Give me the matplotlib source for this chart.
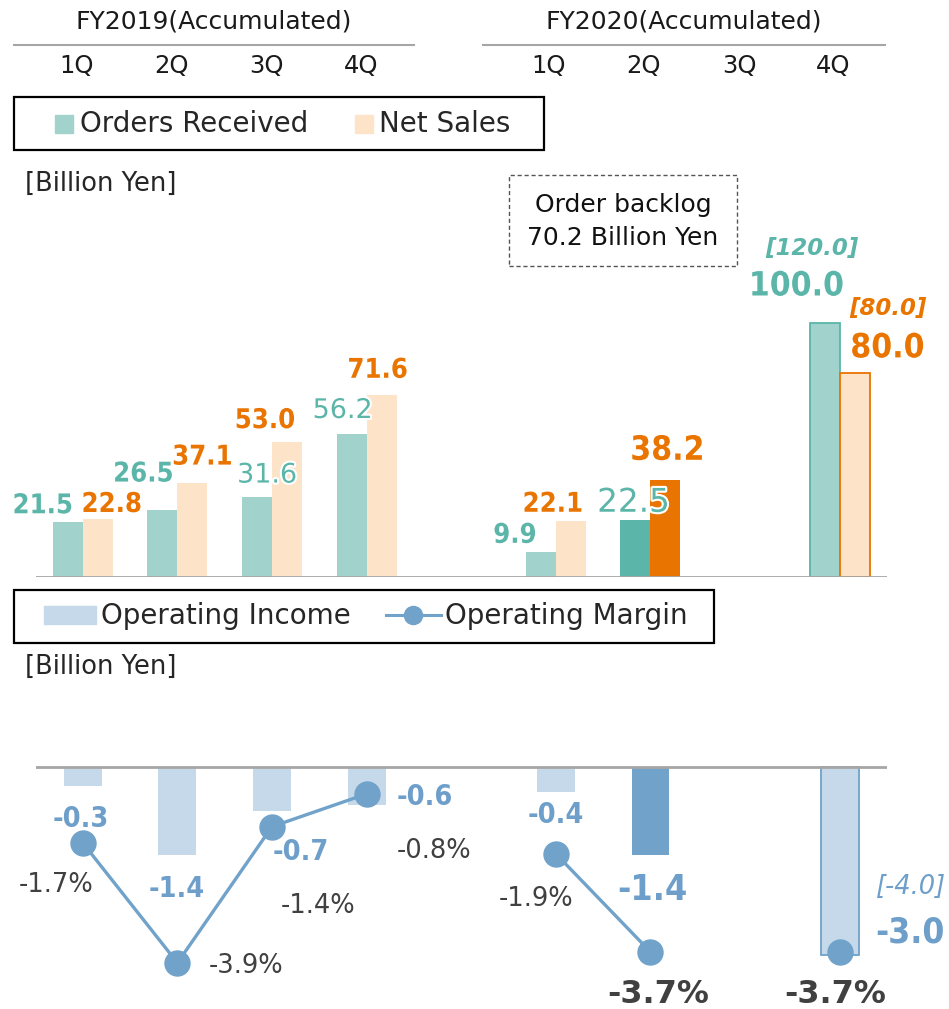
import matplotlib
matplotlib.use("Agg")
import matplotlib.pyplot as plt
import matplotlib.patheffects as pe
from matplotlib.patches import Rectangle
from matplotlib.lines import Line2D
from matplotlib import font_manager
import numpy as np

# ---- data ----
years = ["FY2019(Accumulated)", "FY2020(Accumulated)"]
quarters = ["1Q", "2Q", "3Q", "4Q"]
# slots 0-3 FY2019, 4 is a gap, 5-8 FY2020
orders = [21.5, 26.5, 31.6, 56.2, np.nan, 9.9, 22.5, np.nan, 100.0]
sales = [22.8, 37.1, 53.0, 71.6, np.nan, 22.1, 38.2, np.nan, 80.0]
orders_plan = "[120.0]"
sales_plan = "[80.0]"
op_income = [-0.3, -1.4, -0.7, -0.6, np.nan, -0.4, -1.4, np.nan, -3.0]
op_margin = [-1.7, -3.9, -1.4, -0.8, np.nan, -1.9, -3.7, np.nan, -3.7]
income_plan = "[-4.0]"
backlog = 70.2

TEAL_L = "#A1D3CC"
TEAL_D = "#5BB5A8"
PEACH = "#FDE3C8"
ORANGE = "#E97400"
BLUE_L = "#C6D9EA"
BLUE_D = "#70A2CA"
BLUE_T = "#6E9FCA"
GRAY_T = "#404040"
AXIS = "#A6A6A6"

plt.rcParams["font.family"] = ["DejaVu Sans"]

# bold labels in the original are a bit narrow; use condensed face if it exists
cond_path = font_manager.findfont(font_manager.FontProperties(family="DejaVu Sans", stretch="condensed",
                                                               weight="bold"))
if "ondensed" in cond_path:
    STRETCH, SCALE = "condensed", 1.12
else:
    STRETCH, SCALE = "normal", 1.0

W, H = 949, 1009
fig = plt.figure(figsize=(W / 100, H / 100), dpi=100)


def fx(x):
    return x / W


def fy(y):
    return 1 - y / H


x = np.arange(len(orders))
last = 6      # latest actual quarter
fcst = 8      # full-year forecast

# ---- header ----
for txt, cx, (l, r) in zip(years, [214, 684], [(14, 414), (483, 885)]):
    fig.text(fx(cx), fy(22), txt, ha="center", va="center", fontsize=18, color="#1a1a1a")
    fig.add_artist(Line2D([fx(l), fx(r)], [fy(45), fy(45)], color=AXIS, lw=1.5))
q_pos = [77, 171, 266, 361, 549, 643, 739, 833]
for i, cx in enumerate(q_pos):
    fig.text(fx(cx), fy(66), quarters[i % 4], ha="center", va="center", fontsize=17.5, color="#1a1a1a")

# ---- legend 1 ----
fig.add_artist(Rectangle((fx(14), fy(150)), 530 / W, 53 / H, transform=fig.transFigure,
                         fill=False, edgecolor="black", lw=1.6))
fig.add_artist(Rectangle((fx(55), fy(133)), 18 / W, 18 / H, transform=fig.transFigure, color=TEAL_L))
fig.text(fx(80), fy(124), "Orders Received", ha="left", va="center", fontsize=20, color="#262626")
fig.add_artist(Rectangle((fx(355), fy(133)), 18 / W, 18 / H, transform=fig.transFigure, color=PEACH))
fig.text(fx(379), fy(124), "Net Sales", ha="left", va="center", fontsize=20, color="#262626")

fig.text(fx(25), fy(184), "[Billion Yen]", ha="left", va="center", fontsize=18.5, color="#262626")

# order backlog box
fig.add_artist(Rectangle((fx(509), fy(266)), 228 / W, 91 / H, transform=fig.transFigure,
                         fill=False, edgecolor="#555555", lw=1, linestyle=(0, (3, 2))))
fig.text(fx(623), fy(205), "Order backlog", ha="center", va="center", fontsize=18, color="#111111")
fig.text(fx(623), fy(238), f"{backlog:.1f} Billion Yen", ha="center", va="center", fontsize=18,
         color="#111111")

# ---- top chart ----
ax = fig.add_axes([fx(35.5), fy(577), 851.5 / W, 417 / H])
ax.set_xlim(-0.5, 8.5)
ax.set_ylim(0, 417 / 2.545)
ax.axis("off")
bw = 0.317
for i in x:
    if np.isnan(orders[i]):
        continue
    if i == last:
        oc, sc, oe, se = TEAL_D, ORANGE, "none", "none"
    elif i == fcst:
        oc, sc, oe, se = TEAL_L, PEACH, TEAL_D, ORANGE
    else:
        oc, sc, oe, se = TEAL_L, PEACH, "none", "none"
    ax.bar(i - bw / 2, orders[i], bw, color=oc, edgecolor=oe, lw=1.3)
    ax.bar(i + bw / 2, sales[i], bw, color=sc, edgecolor=se, lw=1.3)
ax.axhline(0, color=AXIS, lw=2)

white = [pe.withStroke(linewidth=3, foreground="white")]
orders_off = [(-25, 9), (-19, 28), (10, 14), (-9, 16), None, (-26, 9), (-2, 8), None, (-28, 27)]
orders_bold = [True, True, False, False, None, True, False, None, True]
orders_size = [17.5, 17.5, 19.4, 19.4, None, 17.5, 23.5, None, 21.5]
sales_off = [(14, 7), (10, 18), (-22, 14), (-4, 17), None, (-18, 9), (2, 20), None, (33, 16)]
sales_size = [17.5, 17.5, 17.5, 17.5, None, 17.5, 21.5, None, 21.5]
for i in x:
    if np.isnan(orders[i]):
        continue
    if orders_bold[i]:
        kw = dict(fontweight="bold", fontstretch=STRETCH, fontsize=orders_size[i] * SCALE)
    else:
        kw = dict(fontweight="normal", fontsize=orders_size[i])
    ax.annotate(f"{orders[i]:.1f}", (i - bw / 2, orders[i]), xytext=orders_off[i],
                textcoords="offset pixels", ha="center", va="baseline", color=TEAL_D,
                path_effects=white, zorder=5, **kw)
    ax.annotate(f"{sales[i]:.1f}", (i + bw / 2, sales[i]), xytext=sales_off[i],
                textcoords="offset pixels", ha="center", va="baseline", color=ORANGE,
                fontsize=sales_size[i] * SCALE, fontweight="bold", fontstretch=STRETCH,
                path_effects=white, zorder=5)
ax.annotate(orders_plan, (fcst - bw / 2, orders[fcst]), xytext=(-13, 67), textcoords="offset pixels",
            ha="center", va="baseline", color=TEAL_D, fontsize=16.5, fontweight="bold",
            fontstyle="italic")
ax.annotate(sales_plan, (fcst + bw / 2, sales[fcst]), xytext=(33, 58), textcoords="offset pixels",
            ha="center", va="baseline", color=ORANGE, fontsize=16.5, fontweight="bold",
            fontstyle="italic")

# ---- legend 2 ----
fig.add_artist(Rectangle((fx(14), fy(643)), 700 / W, 53 / H, transform=fig.transFigure,
                         fill=False, edgecolor="black", lw=1.6))
fig.add_artist(Rectangle((fx(44), fy(624)), 52 / W, 18 / H, transform=fig.transFigure, color=BLUE_L))
fig.text(fx(101), fy(616), "Operating Income", ha="left", va="center", fontsize=20, color="#262626")
fig.add_artist(Line2D([fx(386), fx(441)], [fy(615), fy(615)], color=BLUE_D, lw=2.2))
fig.add_artist(Line2D([fx(413)], [fy(615)], color=BLUE_D, marker="o", ms=13))
fig.text(fx(445), fy(616), "Operating Margin", ha="left", va="center", fontsize=20, color="#262626")

fig.text(fx(25), fy(667), "[Billion Yen]", ha="left", va="center", fontsize=18.5, color="#262626")

# ---- bottom chart ----
axb = fig.add_axes([fx(35.5), fy(1005), 851.5 / W, 325 / H])
axb.set_xlim(-0.5, 8.5)
axb.set_ylim(-(1005 - 767) / 62.8, (767 - 680) / 62.8)
axb.axis("off")
for i in x:
    if np.isnan(op_income[i]):
        continue
    if i == last:
        c, e = BLUE_D, "none"
    elif i == fcst:
        c, e = BLUE_L, BLUE_D
    else:
        c, e = BLUE_L, "none"
    axb.bar(i, op_income[i], 0.40, color=c, edgecolor=e, lw=1.3)
axb.axhline(0, color=AXIS, lw=2)

inc_off = [(-2, -41), (-1, -42), (29, -49), (58, 0), None, (0, -31), (2, -45), None, (70, 13)]
inc_size = [18.4, 18.4, 18.4, 18.4, None, 18.4, 23, None, 22.7]
for i in x:
    if np.isnan(op_income[i]):
        continue
    axb.annotate(f"{op_income[i]:.1f}", (i, op_income[i]), xytext=inc_off[i],
                 textcoords="offset pixels", ha="center", va="baseline", color=BLUE_T,
                 fontsize=inc_size[i] * SCALE, fontweight="bold", fontstretch=STRETCH, zorder=5)
axb.annotate(income_plan, (fcst, op_income[fcst]), xytext=(71, 61), textcoords="offset pixels",
             ha="center", va="baseline", color=BLUE_T, fontsize=18.5, fontstyle="italic")

axm = axb.twinx()
axm.set_xlim(-0.5, 8.5)
axm.set_ylim(-(1005 - 750.3) / 54.5, (750.3 - 680) / 54.5)
axm.axis("off")
axm.plot(x, op_margin, "-o", color=BLUE_D, lw=2.4, ms=18, zorder=3)

mar_off = [(-27, -49), (69, -10), (46, -86), (67, -64), None, (-20, -52), (8, -51), None, (-5, -51)]
for i in x:
    if np.isnan(op_margin[i]):
        continue
    big = i in (last, fcst)
    axm.annotate(f"{op_margin[i]:.1f}%", (i, op_margin[i]), xytext=mar_off[i],
                 textcoords="offset pixels", ha="center", va="baseline", color=GRAY_T,
                 fontsize=23 if big else 18.5, fontweight="bold" if big else "normal",
                 annotation_clip=False)

fig.savefig("out.png", dpi=100)
